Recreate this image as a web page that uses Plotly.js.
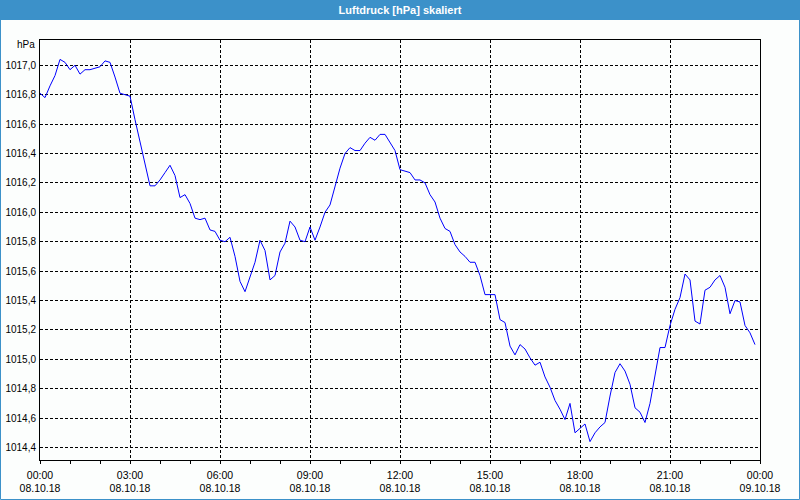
<!DOCTYPE html>
<html><head><meta charset="utf-8">
<script src="https://cdn.plot.ly/plotly-3.0.1.min.js"></script>
<style>html,body{margin:0;padding:0;background:#fcfefd;}#c{width:800px;height:500px;}</style>
</head><body><div id="c"></div>
<script>
// Sampling: one reading every 10 minutes starting 08.10.18 00:00
const startTime = '2018-10-08T00:00:00';
const stepMinutes = 10;
const pressure = [
1016.81,1016.78,1016.86,1016.93,1017.04,1017.02,1016.97,1017.00,1016.94,1016.97,1016.97,1016.98,
1016.99,1017.03,1017.02,1016.92,1016.81,1016.80,1016.79,1016.63,1016.48,1016.34,1016.18,1016.18,
1016.22,1016.27,1016.32,1016.25,1016.10,1016.12,1016.06,1015.96,1015.95,1015.96,1015.88,1015.87,
1015.81,1015.80,1015.83,1015.70,1015.53,1015.46,1015.56,1015.66,1015.81,1015.74,1015.54,1015.57,
1015.73,1015.79,1015.94,1015.90,1015.81,1015.80,1015.90,1015.81,1015.90,1016.00,1016.05,1016.17,
1016.30,1016.40,1016.44,1016.42,1016.42,1016.47,1016.51,1016.49,1016.53,1016.53,1016.47,1016.42,
1016.29,1016.28,1016.27,1016.22,1016.22,1016.20,1016.12,1016.07,1015.96,1015.89,1015.87,1015.78,
1015.73,1015.70,1015.66,1015.66,1015.57,1015.44,1015.44,1015.44,1015.27,1015.25,1015.09,1015.03,
1015.10,1015.07,1015.01,1014.96,1014.98,1014.88,1014.81,1014.72,1014.66,1014.59,1014.70,1014.50,
1014.53,1014.56,1014.44,1014.50,1014.54,1014.57,1014.75,1014.91,1014.97,1014.92,1014.83,1014.67,
1014.64,1014.57,1014.70,1014.88,1015.08,1015.08,1015.23,1015.34,1015.42,1015.58,1015.54,1015.26,
1015.24,1015.47,1015.49,1015.54,1015.57,1015.49,1015.31,1015.40,1015.39,1015.23,1015.18,1015.10
];
const tickTimes = ['2018-10-08 00:00','2018-10-08 03:00','2018-10-08 06:00','2018-10-08 09:00','2018-10-08 12:00','2018-10-08 15:00','2018-10-08 18:00','2018-10-08 21:00','2018-10-09 00:00'];
const tickLabels = ['00:00<br>08.10.18','03:00<br>08.10.18','06:00<br>08.10.18','09:00<br>08.10.18','12:00<br>08.10.18','15:00<br>08.10.18','18:00<br>08.10.18','21:00<br>08.10.18','00:00<br>09.10.18'];
const xRange = ['2018-10-08 00:00','2018-10-09 00:00'];
const yRange = [1014.315, 1017.172];
const titleText = 'Luftdruck [hPa] skaliert';
const unitText = 'hPa';

function pad(n){return (n<10?'0':'')+n;}
const t0 = new Date(startTime);
const times = pressure.map((_,i)=>{
  const d = new Date(t0.getTime()+i*stepMinutes*60000);
  return d.getFullYear()+'-'+pad(d.getMonth()+1)+'-'+pad(d.getDate())+' '+pad(d.getHours())+':'+pad(d.getMinutes());
});

const font = {family:'Liberation Sans, Arial, sans-serif', size:10, color:'#000'};
const xfont = {family:'Liberation Sans, Arial, sans-serif', size:10.5, color:'#000'};
const trace = {x: times, y: pressure, type:'scatter', mode:'lines', line:{color:'#0000ff', width:1}, hoverinfo:'skip'};
const W=720, H=420;
const layout = {
  width:800, height:500,
  margin:{l:40, r:40, t:40, b:40},
  paper_bgcolor:'#fcfefd', plot_bgcolor:'#fcfefd',
  separators:',.',
  showlegend:false,
  font: font,
  title:{text:titleText, font:{family:'Liberation Sans, Arial, sans-serif', size:11, color:'#ffffff', weight:'bold'}, x:0.5, xanchor:'center', y:1-10/500, yanchor:'middle'},
  xaxis:{type:'date', range:xRange, tickvals:tickTimes, ticktext:tickLabels, showgrid:true, gridcolor:'#000', griddash:'3px,2px', gridwidth:1,
    showline:true, linecolor:'#000', linewidth:1, mirror:true, ticks:'', ticklabelstandoff:5, zeroline:false,
    minor:{dtick:3600000, ticks:'outside', ticklen:3, tickcolor:'#000', showgrid:false}, tickfont:xfont, fixedrange:true},
  yaxis:{range:yRange, dtick:0.2, tick0:1014.4, tickformat:'.1f', showgrid:true, gridcolor:'#000', griddash:'3px,2px', gridwidth:1,
    showline:true, linecolor:'#000', linewidth:1, mirror:true, ticks:'', ticklabelstandoff:1, zeroline:false, tickfont:font, fixedrange:true},
  shapes:[
    {type:'rect', xref:'paper', yref:'paper', x0:-40/W, x1:1+40/W, y0:1+20/H, y1:1+40/H, fillcolor:'#3c91c9', line:{width:0}, layer:'below'},
    {type:'rect', xref:'paper', yref:'paper', x0:-39.5/W, x1:1+39.5/W, y0:-39.5/H, y1:1+39.5/H, fillcolor:'rgba(0,0,0,0)', line:{color:'#3c91c9', width:1}}
  ],
  annotations:[
    {text:unitText, xref:'paper', yref:'paper', x:0, y:1, xanchor:'right', yanchor:'middle', xshift:-3, yshift:-4, showarrow:false, font:font}
  ]
};
Plotly.newPlot('c',[trace],layout,{displayModeBar:false, staticPlot:true});
</script></body></html>
